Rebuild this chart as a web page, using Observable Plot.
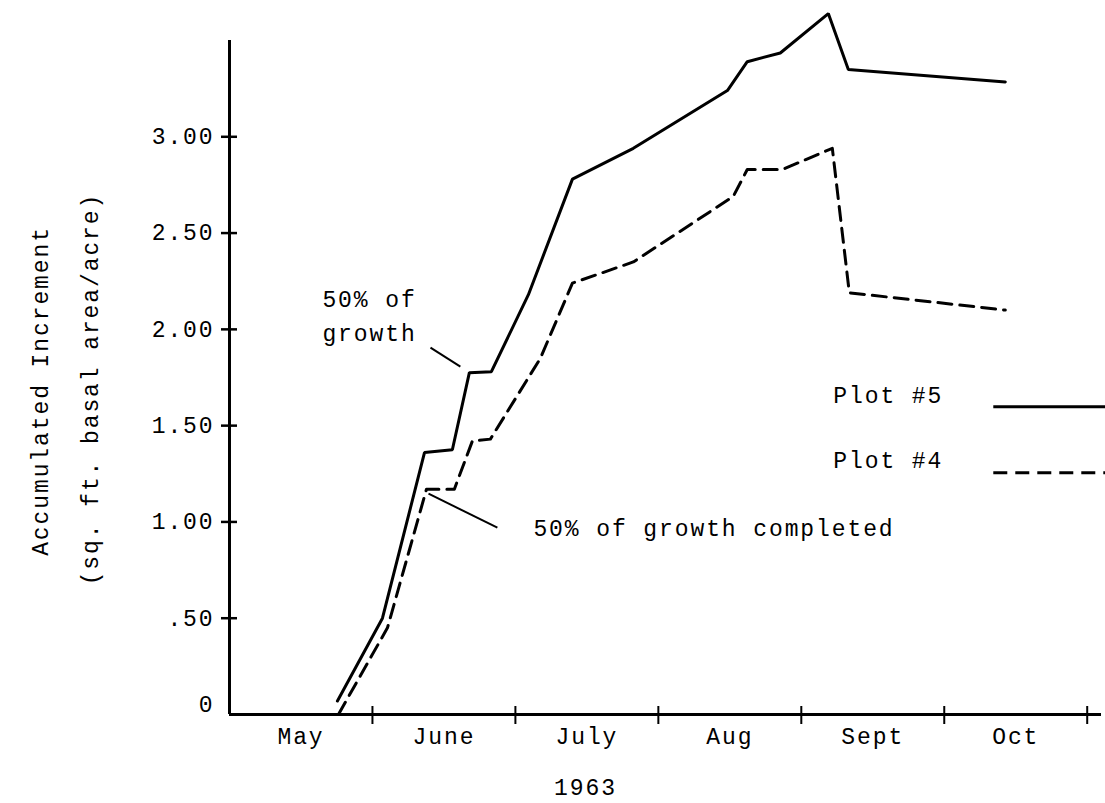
<!DOCTYPE html>
<html>
<head>
<meta charset="utf-8">
<script src="https://cdn.jsdelivr.net/npm/d3@7"></script>
<script src="https://cdn.jsdelivr.net/npm/@observablehq/plot@0.6"></script>
<style>
  html, body { margin: 0; padding: 0; background: white; }
</style>
</head>
<body>
<div id="chart"></div>
<script>
// Month labels (x in month units: 0 = 1 May, 1 = 1 June, ...)
const months = ["May", "June", "July", "Aug", "Sept", "Oct"];
const monthBoundaries = [1, 2, 3, 4, 5, 6];
const yTicks = [0, 0.5, 1, 1.5, 2, 2.5, 3];
const yTickLabels = ["0", ".50", "1.00", "1.50", "2.00", "2.50", "3.00"];

// Plot #5 (solid)
const plot5Month = [0.755, 1.07, 1.364, 1.559, 1.678, 1.832, 2.091, 2.399, 2.825, 3.483, 3.622, 3.853, 4.189, 4.329, 5.427];
const plot5Value = [0.07, 0.50, 1.36, 1.375, 1.775, 1.78, 2.18, 2.78, 2.94, 3.24, 3.39, 3.435, 3.64, 3.35, 3.285];

// Plot #4 (dashed)
const plot4Month = [0.762, 1.105, 1.378, 1.573, 1.699, 1.825, 2.175, 2.399, 2.825, 3.524, 3.622, 3.867, 4.217, 4.336, 5.427];
const plot4Value = [0.0, 0.45, 1.17, 1.17, 1.42, 1.43, 1.85, 2.24, 2.35, 2.69, 2.83, 2.83, 2.94, 2.19, 2.10];

const seriesNames = ["Plot #5", "Plot #4"];
const seriesDash = ["none", "14,8"];

// Annotations
const noteTexts = ["50% of\ngrowth", "50% of growth completed"];
const noteX = [0.65, 2.126];
const noteY = [2.086, 0.981];
const leaderX1 = [1.406, 1.392];
const leaderY1 = [1.905, 1.147];
const leaderX2 = [1.615, 1.874];
const leaderY2 = [1.806, 0.970];

// Legend
const legendTextX = 4.224;
const legendTextY = [1.655, 1.318];
const legendLineX1 = 5.343;
const legendLineX2 = 6.13;
const legendLineY = [1.598, 1.256];

const yearLabel = "1963";
const yTitle1 = "Accumulated Increment";
const yTitle2 = "(sq. ft. basal area/acre)";

const data = [
  ...plot5Month.map((m, i) => ({series: seriesNames[0], month: m, value: plot5Value[i]})),
  ...plot4Month.map((m, i) => ({series: seriesNames[1], month: m, value: plot4Value[i]}))
];
const tickData = yTicks.map((v, i) => ({v, label: yTickLabels[i]}));
const notes = noteTexts.map((t, i) => ({t, x: noteX[i], y: noteY[i]}));
const leaders = leaderX1.map((x1, i) => ({x1, y1: leaderY1[i], x2: leaderX2[i], y2: leaderY2[i]}));
const legend = seriesNames.map((s, i) => ({s, ty: legendTextY[i], ly: legendLineY[i], dash: seriesDash[i]}));

const font = "Liberation Mono";
const fs = 23;

const chart = Plot.plot({
  width: 1105,
  height: 803,
  marginLeft: 229,
  marginRight: 4,
  marginTop: 40,
  marginBottom: 89,
  x: {domain: [0, 6.1], axis: null},
  y: {domain: [0, 3.5], axis: null},
  style: {background: "white", color: "black", fontFamily: font, fontSize: fs + "px", letterSpacing: "1.9px"},
  marks: [
    // axis lines
    Plot.ruleX([0], {y1: 0, y2: 3.5, stroke: "black", strokeWidth: 3}),
    Plot.ruleY([0], {x1: 0, x2: 6.1, stroke: "black", strokeWidth: 3}),
    // y ticks crossing axis
    Plot.axisY(yTicks.slice(1), {tickSize: 16, dx: 8, tickFormat: () => "", label: null, strokeWidth: 2.5, stroke: "black"}),
    // x month boundary ticks crossing axis
    Plot.axisX(monthBoundaries, {tickSize: 18, dy: -8, tickFormat: () => "", label: null, strokeWidth: 2, stroke: "black"}),
    // y tick labels
    Plot.text(tickData.filter(d => d.v > 0), {x: 0, y: "v", text: "label", textAnchor: "end", dx: -15, fontSize: fs, fill: "black"}),
    Plot.text(tickData.filter(d => d.v === 0), {x: 0, y: "v", text: "label", textAnchor: "end", dx: -15, dy: -10, fontSize: fs, fill: "black"}),
    // month labels
    Plot.text(months, {x: (d, i) => i + 0.5, y: 0, text: d => d, dy: 22, fontSize: fs, fill: "black"}),
    // year
    Plot.text([yearLabel], {x: 2.49, y: 0, text: d => d, dy: 73, fontSize: fs, fill: "black"}),
    // y titles
    Plot.text([yTitle1], {frameAnchor: "left", y: 1.68, text: d => d, rotate: -90, textAnchor: "middle", dx: -189, fontSize: fs, fill: "black"}),
    Plot.text([yTitle2], {frameAnchor: "left", y: 1.69, text: d => d, rotate: -90, textAnchor: "middle", dx: -139, fontSize: fs, fill: "black"}),
    // data lines
    Plot.line(data.filter(d => d.series === seriesNames[0]), {x: "month", y: "value", stroke: "black", strokeWidth: 3, strokeLinejoin: "miter"}),
    Plot.line(data.filter(d => d.series === seriesNames[1]), {x: "month", y: "value", stroke: "black", strokeWidth: 3, strokeDasharray: seriesDash[1]}),
    // annotations
    Plot.link(leaders, {x1: "x1", y1: "y1", x2: "x2", y2: "y2", stroke: "black", strokeWidth: 2}),
    Plot.text(notes, {x: "x", y: "y", text: "t", textAnchor: "start", lineHeight: 1.48, fontSize: fs, fill: "black"}),
    // legend
    Plot.text(legend, {x: legendTextX, y: "ty", text: "s", textAnchor: "start", fontSize: fs, fill: "black"}),
    Plot.link(legend.slice(0, 1), {x1: legendLineX1, x2: legendLineX2, y1: "ly", y2: "ly", stroke: "black", strokeWidth: 3, clip: false}),
    Plot.link(legend.slice(1), {x1: legendLineX1, x2: legendLineX2, y1: "ly", y2: "ly", stroke: "black", strokeWidth: 3, strokeDasharray: seriesDash[1], clip: false})
  ]
});
document.getElementById("chart").appendChild(chart);
</script>
</body>
</html>
